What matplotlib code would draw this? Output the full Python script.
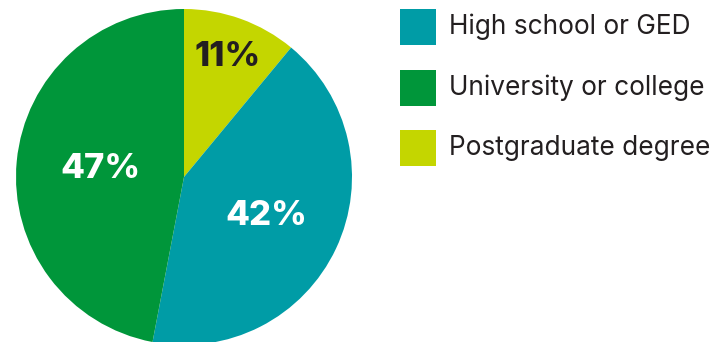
import numpy as np
import matplotlib
matplotlib.use("Agg")
import matplotlib.pyplot as plt
from matplotlib.patches import Rectangle

# Education level shares (%), drawn clockwise from 12 o'clock
pie_labels = ["Postgraduate degree", "High school or GED", "University or college"]
pie_values = [11, 42, 47]
pie_colors = ["#c4d600", "#009ca6", "#00963a"]
pct_colors = ["#231f20", "white", "white"]
pct_radius = [0.76, 0.54, 0.50]

# Legend order
legend_labels = ["High school or GED", "University or college", "Postgraduate degree"]
legend_colors = ["#009ca6", "#00963a", "#c4d600"]

W, H = 719, 342
fig = plt.figure(figsize=(W / 100, H / 100), dpi=100)

cx, cy, r = 184, 177, 168
ax = fig.add_axes([(cx - r) / W, (H - cy - r) / H, 2 * r / W, 2 * r / H])
wedges, _ = ax.pie(pie_values, colors=pie_colors, startangle=90, counterclock=False,
                   radius=1, wedgeprops=dict(linewidth=0))
ax.set_xlim(-1, 1)
ax.set_ylim(-1, 1)
ax.set_aspect("equal")
ax.axis("off")

total = sum(pie_values)
start = 90.0
for val, col, rad in zip(pie_values, pct_colors, pct_radius):
    sweep = 360.0 * val / total
    mid = np.deg2rad(start - sweep / 2)
    ax.text(rad * np.cos(mid), rad * np.sin(mid), f"{val}%", ha="center", va="center",
            color=col, fontsize=25, fontweight="heavy", family="Inter")
    start -= sweep

# Legend in pixel coordinates
lg = fig.add_axes([0, 0, 1, 1])
lg.set_xlim(0, W)
lg.set_ylim(H, 0)
lg.axis("off")
for i, (lab, col) in enumerate(zip(legend_labels, legend_colors)):
    y0 = 9 + i * 60.5
    lg.add_patch(Rectangle((400, y0), 36, 36, facecolor=col, edgecolor="none"))
    lg.text(449, y0 + 18, lab, ha="left", va="center", fontsize=18.9,
            color="#231f20", family="Inter")

fig.savefig("out.png", dpi=100)
